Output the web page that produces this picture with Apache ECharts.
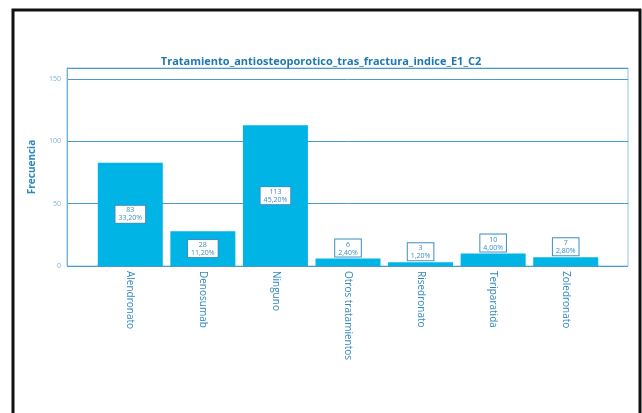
<!DOCTYPE html>
<html>
<head>
<meta charset="utf-8">
<script src="https://cdn.jsdelivr.net/npm/echarts@6/dist/echarts.min.js"></script>
<style>
  html, body { margin: 0; padding: 0; background: #fff; }
  #chart { width: 642px; height: 413px; }
</style>
</head>
<body>
<div id="chart"></div>
<script>
const categories = ['Alendronato', 'Denosumab', 'Ninguno', 'Otros tratamientos', 'Risedronato', 'Teriparatida', 'Zoledronato']
const counts = [83, 28, 113, 6, 3, 10, 7]
const percents = ['33,20%', '11,20%', '45,20%', '2,40%', '1,20%', '4,00%', '2,80%']
const yTicks = [0, 50, 100, 150]

const blue = '#3a8fc2'
const barColor = '#00b5e6'

let chart = echarts.init(document.getElementById('chart'))

// labels inside tall bars, above the short ones
let barData = counts.map((v, i) => ({
  value: v,
  label: {
    position: v > 20 ? 'inside' : 'top',
    distance: 2
  }
}))

let option = {
  animation: false,
  textStyle: {fontFamily: 'Open Sans'},
  title: {
    text: 'Tratamiento_antiosteoporotico_tras_fractura_indice_E1_C2',
    left: 'center',
    top: 51,
    textStyle: {fontSize: 11, fontWeight: 'bold', color: '#1f78ad', fontFamily: 'Open Sans'}
  },
  graphic: [
    {
      type: 'rect',
      shape: {x: 13, y: 10, width: 627, height: 420},
      style: {fill: 'none', stroke: '#111', lineWidth: 3}
    }
  ],
  grid: [
    // box with gridlines
    {left: 67, right: 14, top: 68, bottom: 147, show: true, borderColor: '#8fc4e2', borderWidth: 1},
    // bars
    {left: 94, right: 40, top: 68, bottom: 147}
  ],
  xAxis: [
    {gridIndex: 0, type: 'value', show: false, splitLine: {show: false}},
    {
      gridIndex: 1,
      type: 'category',
      data: categories,
      boundaryGap: true,
      axisLine: {show: false},
      axisTick: {show: false},
      splitLine: {show: false},
      axisLabel: {rotate: -90, color: '#3088c0', fontSize: 10, margin: 5, interval: 0}
    }
  ],
  yAxis: [
    {
      gridIndex: 0,
      type: 'value',
      min: 0,
      max: 159,
      interval: 50,
      name: 'Frecuencia',
      nameLocation: 'middle',
      nameGap: 30,
      nameTextStyle: {color: '#2a86bf', fontSize: 10, fontWeight: 'bold'},
      axisLine: {show: true, lineStyle: {color: '#6fb0d8'}},
      axisTick: {show: false},
      axisLabel: {
        color: '#7ab4d8',
        fontSize: 7,
        margin: 6,
        formatter: v => yTicks.includes(v) ? String(v) : ''
      },
      splitLine: {show: true, lineStyle: {color: '#4a9ad0', width: 1, type: 'solid'}}
    },
    {gridIndex: 1, type: 'value', min: 0, max: 159, show: false, splitLine: {show: false}}
  ],
  series: [
    {
      name: 'Frecuencia',
      type: 'bar',
      xAxisIndex: 1,
      yAxisIndex: 1,
      barWidth: 65,
      itemStyle: {color: barColor},
      data: barData,
      label: {
        show: true,
        formatter: p => counts[p.dataIndex] + '\n' + percents[p.dataIndex],
        color: blue,
        fontSize: 7,
        lineHeight: 8,
        align: 'center',
        backgroundColor: '#fff',
        borderColor: '#3f8fc0',
        borderWidth: 1,
        padding: [1, 3, 0, 3]
      }
    }
  ]
}

chart.setOption(option)
</script>
</body>
</html>
